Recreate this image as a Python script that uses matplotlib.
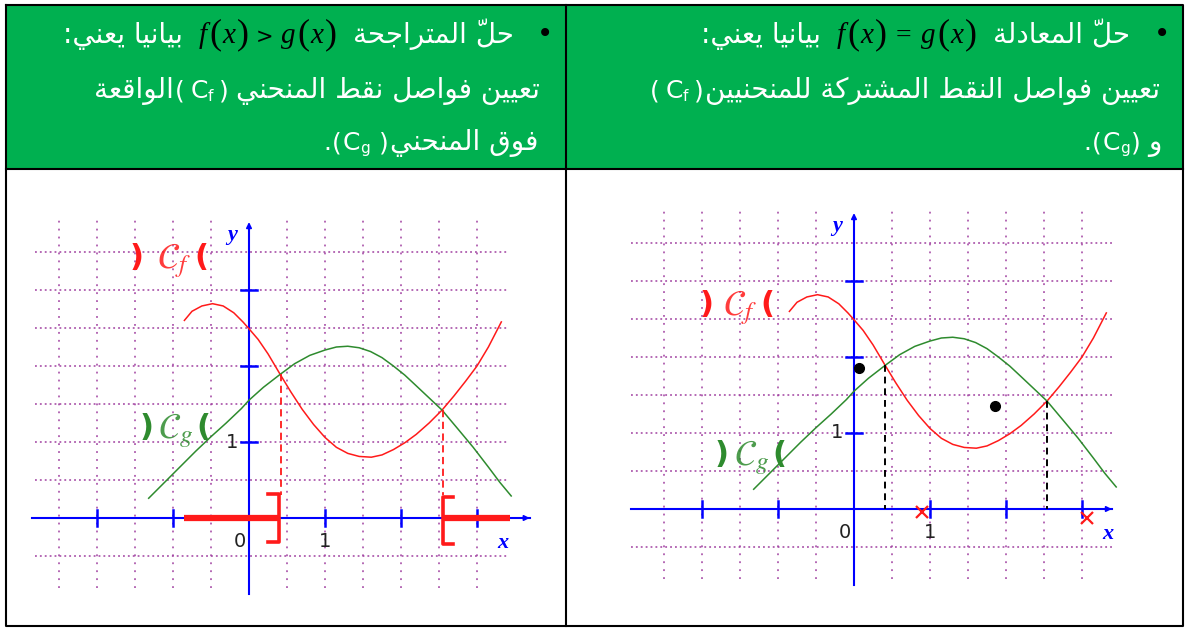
import matplotlib
matplotlib.use('Agg')
import matplotlib.pyplot as plt
from matplotlib.patches import Rectangle

W, H = 1193, 628

# curves (graph units, same curves in both panels)
f_x = [-0.85, -0.75, -0.62, -0.48, -0.34, -0.20, -0.08, 0.00, 0.12, 0.25, 0.41, 0.55, 0.70,
       0.85, 1.00, 1.15, 1.30, 1.45, 1.61, 1.75, 1.90, 2.05, 2.20, 2.37, 2.54, 2.70, 2.85,
       3.00, 3.15, 3.32]
f_y = [2.60, 2.72, 2.79, 2.82, 2.79, 2.70, 2.58, 2.49, 2.35, 2.16, 1.89, 1.66, 1.43,
       1.23, 1.06, 0.93, 0.85, 0.81, 0.80, 0.83, 0.90, 0.99, 1.10, 1.25, 1.42, 1.61, 1.80,
       2.00, 2.25, 2.58]
g_x = [-1.32, -1.10, -0.90, -0.70, -0.50, -0.30, -0.10, 0.00, 0.19, 0.41, 0.60, 0.80, 1.00,
       1.15, 1.30, 1.45, 1.60, 1.75, 1.90, 2.05, 2.20, 2.37, 2.54, 2.75, 2.95, 3.15, 3.30, 3.45]
g_y = [0.26, 0.48, 0.68, 0.88, 1.07, 1.25, 1.44, 1.55, 1.72, 1.89, 2.03, 2.14, 2.21,
       2.25, 2.26, 2.24, 2.19, 2.11, 2.00, 1.88, 1.74, 1.58, 1.42, 1.17, 0.93, 0.67, 0.47, 0.29]

# intersections of the two curves
cross_x = [0.41, 2.54]
cross_y = [1.89, 1.42]

# grid and ticks
grid_vx = [-2.5, -2, -1.5, -1, -0.5, 0.5, 1, 1.5, 2, 2.5, 3]
grid_hy = [-0.5, 0.5, 1, 1.5, 2, 2.5, 3, 3.5]
xticks = [-2, -1, 1, 2, 3]
yticks = [1, 2, 3]

# solution set of f(x) > g(x) (left panel)
sol_left = [-0.85, 0.39]
sol_right = [2.55, 3.43]

# marks of the right panel
dots_x = [0.06, 1.85]
dots_y = [1.85, 1.35]
cross_mark_x = [0.90, 3.06]
cross_mark_y = [-0.04, -0.12]

GREEN_CELL = '#00B050'
PURPLE = '#a040a0'
BLUE = '#0000ff'
RED = '#ff1a1a'
GREEN = '#2e8b2e'

# ---------- minimal arabic shaping (presentation forms) ----------
FORMS = {
    'ا': ('\uFE8D', '\uFE8E', None, None),
    'ب': ('\uFE8F', '\uFE90', '\uFE91', '\uFE92'),
    'ة': ('\uFE93', '\uFE94', None, None),
    'ت': ('\uFE95', '\uFE96', '\uFE97', '\uFE98'),
    'ج': ('\uFE9D', '\uFE9E', '\uFE9F', '\uFEA0'),
    'ح': ('\uFEA1', '\uFEA2', '\uFEA3', '\uFEA4'),
    'د': ('\uFEA9', '\uFEAA', None, None),
    'ر': ('\uFEAD', '\uFEAE', None, None),
    'ش': ('\uFEB5', '\uFEB6', '\uFEB7', '\uFEB8'),
    'ص': ('\uFEB9', '\uFEBA', '\uFEBB', '\uFEBC'),
    'ط': ('\uFEC1', '\uFEC2', '\uFEC3', '\uFEC4'),
    'ع': ('\uFEC9', '\uFECA', '\uFECB', '\uFECC'),
    'ف': ('\uFED1', '\uFED2', '\uFED3', '\uFED4'),
    'ق': ('\uFED5', '\uFED6', '\uFED7', '\uFED8'),
    'ك': ('\uFED9', '\uFEDA', '\uFEDB', '\uFEDC'),
    'ل': ('\uFEDD', '\uFEDE', '\uFEDF', '\uFEE0'),
    'م': ('\uFEE1', '\uFEE2', '\uFEE3', '\uFEE4'),
    'ن': ('\uFEE5', '\uFEE6', '\uFEE7', '\uFEE8'),
    'و': ('\uFEED', '\uFEEE', None, None),
    'ي': ('\uFEF1', '\uFEF2', '\uFEF3', '\uFEF4'),
}
MARKS = '\u0651'


def ar(s):
    n = len(s)

    def neighbour(i, step):
        j = i + step
        while 0 <= j < n and s[j] in MARKS:
            j += step
        return s[j] if 0 <= j < n else None

    out = []
    for i, c in enumerate(s):
        if c not in FORMS:
            out.append(c)
            continue
        p, q = neighbour(i, -1), neighbour(i, 1)
        jp = p in FORMS and FORMS[p][2] is not None
        jn = q in FORMS and FORMS[c][2] is not None
        iso, fin, ini, med = FORMS[c]
        out.append(med if jp and jn else fin if jp else ini if jn else iso)
    # visual order; marks end up just before their base, as the font expects
    return ''.join(reversed(out))


fig = plt.figure(figsize=(W / 100, H / 100), dpi=100)
bg = fig.add_axes([0, 0, 1, 1])
bg.set_xlim(0, W)
bg.set_ylim(H, 0)
bg.axis('off')
r = fig.canvas.get_renderer()

# table
bg.add_patch(Rectangle((6, 5), 1177, 164, color=GREEN_CELL, lw=0))
kw_line = dict(color='black', lw=1.5, solid_capstyle='projecting')
bg.plot([6, 1183, 1183, 6, 6], [5, 5, 626, 626, 5], **kw_line)
bg.plot([6, 1183], [169, 169], **kw_line)
bg.plot([566, 566], [5, 626], **kw_line)

FS = 20
AR = dict(color='white', fontsize=FS, family='DejaVu Sans')
LAT = dict(color='white', fontsize=FS - 2, family='DejaVu Sans')
SUB = dict(color='white', fontsize=11, family='DejaVu Sans')
MI = dict(color='black', fontsize=21, family='Liberation Serif', style='italic')
MP = dict(color='black', fontsize=26, family='Liberation Serif')
MO = dict(color='black', fontsize=20, family='Liberation Serif')


def flow(x_right, y, pieces):
    x = x_right
    for p in reversed(pieces):
        if isinstance(p, (int, float)):
            x -= p
            continue
        dy = p[2] if len(p) > 2 else 0
        t = bg.text(x, y + dy, p[0], ha='right', va='baseline', **p[1])
        x -= t.get_window_extent(r).width
    return x


def fx_math(op, gap):
    return [('f', MI), 2, ('(', MP), 1, ('x', MI), 2, (')', MP), gap, op, gap,
            ('g', MI), 2, ('(', MP), 1, ('x', MI), 2, (')', MP)]


BASE = [43, 98, 150]

# left header cell
bg.text(545, 34, '•', ha='center', va='center', fontsize=20, color='black')
flow(514, BASE[0], [(':' + ar('بيانيا يعني'), AR), 16]
     + fx_math(('>', dict(color='black', fontsize=15, family='DejaVu Sans')), 7)
     + [16, (ar('حلّ المتراجحة'), AR)])
flow(540, BASE[1], [(ar('الواقعة'), AR), 1, ('(', LAT), 6, ('C', LAT), ('f', SUB, 3), 6,
                    (')', LAT), 7, (ar('تعيين فواصل نقط المنحني'), AR)])
flow(538, BASE[2], [('.', LAT), 1, ('(', LAT), 1, ('C', LAT), ('g', SUB, 3), 9, (')', LAT), 1,
                    (ar('فوق المنحني'), AR)])

# right header cell
bg.text(1162, 34, '•', ha='center', va='center', fontsize=20, color='black')
flow(1130, BASE[0], [(':' + ar('بيانيا يعني'), AR), 16]
     + fx_math(('=', MO), 9) + [16, (ar('حلّ المعادلة'), AR)])
flow(1160, BASE[1], [('(', LAT), 6, ('C', LAT), ('f', SUB, 3), 6, (')', LAT), 1,
                     (ar('تعيين فواصل النقط المشتركة للمنحنيين'), AR)])
flow(1162, BASE[2], [('.', LAT), 1, ('(', LAT), 1, ('C', LAT), ('g', SUB, 3), 1, (')', LAT), 8,
                     (ar('و'), AR)])

U = 76.0
XL, XR, YB, YT = -3.0, 3.9, -1.15, 4.1


def panel(ox, oy, xaxis, hgrid):
    ax = fig.add_axes([(ox + XL * U) / W, (H - oy + YB * U) / H,
                       (XR - XL) * U / W, (YT - YB) * U / H])
    ax.set_xlim(XL, XR)
    ax.set_ylim(YB, YT)
    ax.axis('off')
    ax.patch.set_alpha(0)
    for v in grid_vx:
        ax.plot([v, v], [-0.92, 3.93], color=PURPLE, lw=1.1, ls=(0, (1.2, 4.0)), zorder=1)
    for h in grid_hy:
        ax.plot(hgrid, [h, h], color=PURPLE, lw=1.1, ls=(0, (1.2, 2.0)), zorder=1)
    # axes
    ax.plot(xaxis, [0, 0], color=BLUE, lw=1.5, zorder=2)
    ax.annotate('', xy=(xaxis[1] + 0.03, 0), xytext=(xaxis[1] - 0.1, 0),
                arrowprops=dict(arrowstyle='-|>', color=BLUE, lw=1.2, mutation_scale=8), zorder=2)
    ax.plot([0, 0], [-1.0, 3.85], color=BLUE, lw=1.5, zorder=2)
    ax.annotate('', xy=(0, 3.93), xytext=(0, 3.8),
                arrowprops=dict(arrowstyle='-|>', color=BLUE, lw=1.2, mutation_scale=8), zorder=2)
    for t in xticks:
        ax.plot([t, t], [-0.11, 0.11], color=BLUE, lw=1.8, zorder=2)
    for t in yticks:
        ax.plot([-0.11, 0.11], [t, t], color=BLUE, lw=1.8, zorder=2)
    ax.text(3.34, -0.33, 'x', color=BLUE, fontsize=16, family='Liberation Serif',
            style='italic', weight='bold', ha='center', va='center')
    ax.text(-0.22, 3.72, 'y', color=BLUE, fontsize=16, family='Liberation Serif',
            style='italic', weight='bold', ha='center', va='center')
    num = dict(color='#222222', fontsize=14, family='DejaVu Sans', ha='center', va='center')
    ax.text(-0.12, -0.31, '0', **num)
    ax.text(1.0, -0.31, '1', **num)
    ax.text(-0.22, 1.0, '1', **num)
    # curves
    ax.plot(f_x, f_y, color=RED, lw=1.1, zorder=3)
    ax.plot(g_x, g_y, color=GREEN, lw=1.1, zorder=3)
    return ax


def curve_label(ax, x_close, x_c, x_open, y, col, sub):
    pk = dict(color=col, fontsize=22, family='DejaVu Sans', weight='bold',
              ha='center', va='center')
    ax.text(x_close, y, ')', **pk)
    ax.text(x_open, y, '(', **pk)
    ax.text(x_c, y - 0.04, r'$\mathcal{C}_' + sub + '$', color=col, fontsize=26,
            math_fontfamily='stix', ha='center', va='center', alpha=0.85)


# left panel: inequality
axl = panel(249, 518, [-2.86, 3.70], [-2.81, 3.39])
curve_label(axl, -1.48, -0.99, -0.63, 3.43, RED, 'f')
curve_label(axl, -1.35, -0.97, -0.60, 1.19, GREEN, 'g')
axl.plot(sol_left, [0, 0], color=RED, lw=4.5, solid_capstyle='butt', zorder=4)
axl.plot(sol_right, [0, 0], color=RED, lw=4.5, solid_capstyle='butt', zorder=4)
axl.plot([sol_left[1] - 0.14, sol_left[1], sol_left[1], sol_left[1] - 0.14],
         [0.31, 0.31, -0.31, -0.31], color=RED, lw=2.6, zorder=4)
axl.plot([sol_right[0] + 0.13, sol_right[0], sol_right[0], sol_right[0] + 0.13],
         [0.27, 0.27, -0.34, -0.34], color=RED, lw=2.6, zorder=4)
for cx, cy in zip(cross_x, cross_y):
    axl.plot([cx + 0.01, cx + 0.01], [cy, 0.3], color=RED, lw=1.3, ls=(0, (4, 2.5)), zorder=3)

# right panel: equation
axr = panel(854, 509, [-2.93, 3.40], [-2.93, 3.41])
curve_label(axr, -1.94, -1.50, -1.14, 2.69, RED, 'f')
curve_label(axr, -1.74, -1.35, -0.98, 0.72, GREEN, 'g')
for cx, cy in zip(cross_x, cross_y):
    axr.plot([cx, cx], [cy, 0], color='black', lw=1.4, ls=(0, (3.5, 2.5)), zorder=3)
axr.plot(dots_x, dots_y, 'o', color='black', ms=7, zorder=5)
axr.plot(cross_mark_x, cross_mark_y, 'x', color=RED, ms=9, mew=1.6, zorder=5)

fig.savefig('out.png', dpi=100)
